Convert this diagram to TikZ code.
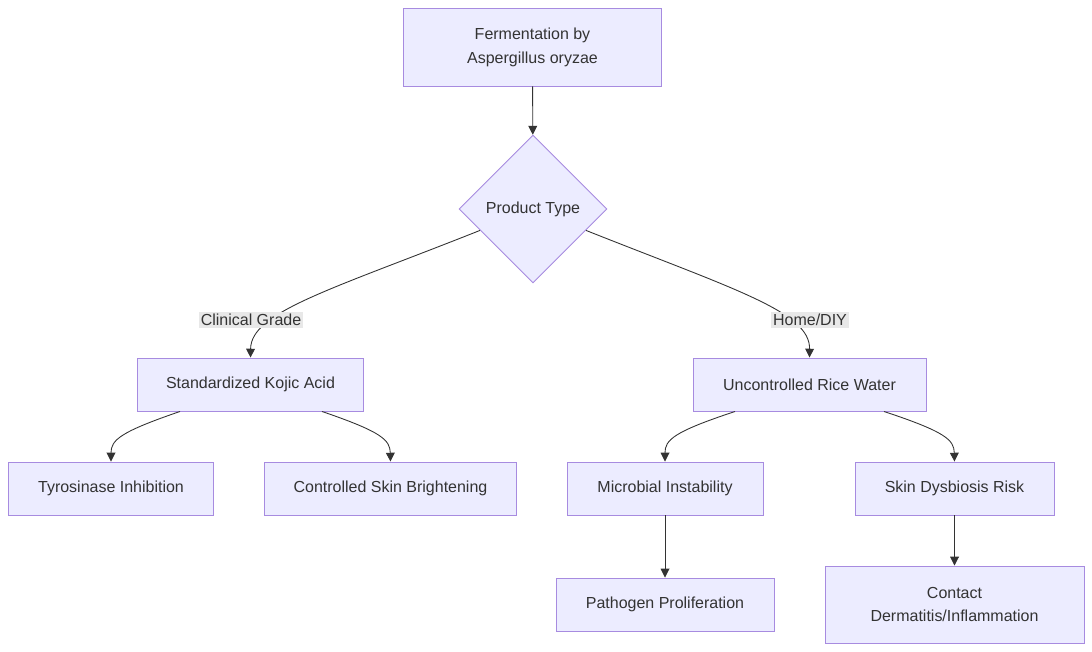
\documentclass[tikz,border=0pt]{standalone}
\usepackage{fontspec}
\setmainfont{Liberation Sans}
\usetikzlibrary{shapes.geometric,arrows.meta}
\definecolor{boxfill}{HTML}{ECECFF}
\definecolor{boxline}{HTML}{A78BE0}
\definecolor{ink}{HTML}{333333}
\definecolor{lblfill}{HTML}{E8E8E8}
\tikzset{
  every node/.style={font=\fontsize{9.1}{13.6}\selectfont,text=ink},
  procbox/.style={rectangle,draw=boxline,fill=boxfill,line width=0.55pt,align=center,inner sep=0pt},
  choice/.style={diamond,draw=boxline,fill=boxfill,line width=0.55pt,inner sep=0pt,minimum size=2.96cm},
  edgelbl/.style={fill=lblfill,inner sep=1pt},
  flow/.style={-{Triangle[length=5pt,width=5pt]},draw=ink,line width=0.5pt}
}
\begin{document}
\begin{tikzpicture}[x=0.02cm,y=-0.02cm]
\useasboundingbox (0,0) rectangle (1092,652);
\node[procbox,minimum width=5.18cm,minimum height=1.56cm] (ferm) at (532.5,47) {Fermentation by\\Aspergillus oryzae};
\node[choice] (ptype) at (533,209) {Product Type};
\node[procbox,minimum width=4.54cm,minimum height=1.06cm] (kojic) at (250.5,384.5) {Standardized Kojic Acid};
\node[procbox,minimum width=4.66cm,minimum height=1.06cm] (rice) at (809.5,384.5) {Uncontrolled Rice Water};
\node[procbox,minimum width=4.12cm,minimum height=1.06cm] (tyro) at (111,488.5) {Tyrosinase Inhibition};
\node[procbox,minimum width=5.06cm,minimum height=1.06cm] (bright) at (390.5,488.5) {Controlled Skin Brightening};
\node[procbox,minimum width=3.92cm,minimum height=1.06cm] (micro) at (665,488.5) {Microbial Instability};
\node[procbox,minimum width=3.98cm,minimum height=1.06cm] (dysb) at (954.5,488.5) {Skin Dysbiosis Risk};
\node[procbox,minimum width=4.36cm,minimum height=1.06cm] (patho) at (665,604.5) {Pathogen Proliferation};
\node[procbox,minimum width=5.18cm,minimum height=1.54cm] (derm) at (954.5,604.5) {Contact\\Dermatitis/Inflammation};

\draw[flow] (ferm) -- (ptype);
\draw[flow] (ptype.202) .. controls (330,290) and (251,312) .. (kojic.north);
\draw[flow] (ptype.338) .. controls (736,290) and (810,312) .. (rice.north);
\node[edgelbl] (lclin) at (251,320) {Clinical Grade};
\node[edgelbl] (lhome) at (810,320) {Home/DIY};
\draw[flow] (kojic.south -| 180,0) .. controls (120,432) and (111,440) .. (tyro.north);
\draw[flow] (kojic.south -| 322,0) .. controls (382,432) and (390,440) .. (bright.north);
\draw[flow] (rice.south -| 735,0) .. controls (673,432) and (665,440) .. (micro.north);
\draw[flow] (rice.south -| 884,0) .. controls (946,432) and (954,440) .. (dysb.north);
\draw[flow] (micro) -- (patho);
\draw[flow] (dysb) -- (derm);
\end{tikzpicture}
\end{document}
